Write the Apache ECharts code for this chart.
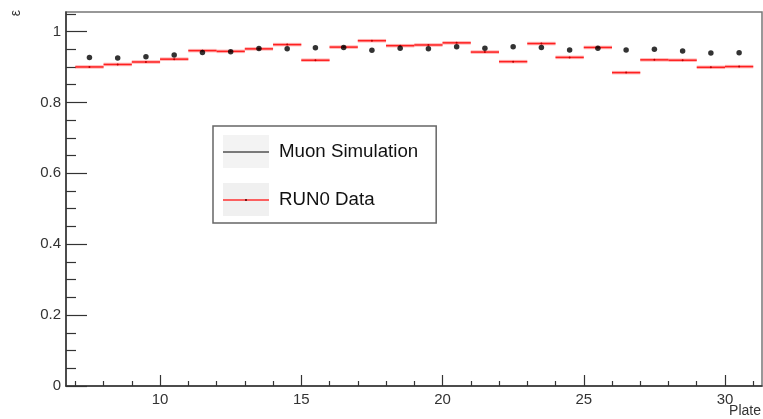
<!DOCTYPE html>
<html><head><meta charset="utf-8">
<script src="https://cdn.jsdelivr.net/npm/echarts@6/dist/echarts.min.js"></script>
<style>html,body{margin:0;padding:0;background:#fff}#c{width:763px;height:419px}</style>
</head><body><div id="c"></div>
<script>
const plates = [7,8,9,10,11,12,13,14,15,16,17,18,19,20,21,22,23,24,25,26,27,28,29,30];
const simEff = [0.927,0.925,0.929,0.934,0.941,0.943,0.952,0.951,0.954,0.955,0.947,0.953,0.951,0.957,0.953,0.957,0.955,0.948,0.953,0.948,0.950,0.945,0.939,0.940];
const runEff = [0.900,0.907,0.914,0.922,0.946,0.944,0.951,0.963,0.919,0.956,0.974,0.960,0.962,0.968,0.942,0.915,0.966,0.927,0.955,0.884,0.920,0.919,0.899,0.901];
const xMajorTicks = [10,15,20,25,30];
const xMinorTicks = [7,8,9,11,12,13,14,16,17,18,19,21,22,23,24,26,27,28,29,31];
const yMajorTicks = [0,0.2,0.4,0.6,0.8,1];
const yMinorTicks = [0.05,0.1,0.15,0.25,0.3,0.35,0.45,0.5,0.55,0.65,0.7,0.75,0.85,0.9,0.95,1.05];
const seriesNames = ['Muon Simulation','RUN0 Data'];

const chart = echarts.init(document.getElementById('c'), null, {renderer:'canvas'});
const FONT = '"Liberation Sans", Arial, Helvetica, sans-serif';
const X0 = 6.67, X1 = 31.31, Y0 = 0, Y1 = 1.055;

function xAx(ticks, len, labels, line){
  return {type:'value', min:X0, max:X1, position:'bottom', offset:0,
    axisLine:{show:line, onZero:false, lineStyle:{color:'#333', width:1.5}},
    axisTick:{show:true, inside:true, length:len, customValues:ticks, lineStyle:{color:'#333', width:1.2}},
    axisLabel:{show:labels, customValues:ticks, margin:6, color:'#333', fontFamily:FONT, fontSize:15},
    splitLine:{show:false}};
}
function yAx(ticks, len, labels, line){
  return {type:'value', min:Y0, max:Y1, position:'left', offset:0,
    axisLine:{show:line, onZero:false, lineStyle:{color:'#333', width:1.5}},
    axisTick:{show:true, inside:true, length:len, customValues:ticks, lineStyle:{color:'#333', width:1.2}},
    axisLabel:{show:labels, customValues:ticks, margin:5, color:'#333', fontFamily:FONT, fontSize:15},
    splitLine:{show:false}};
}

chart.setOption({
  animation:false,
  backgroundColor:'#fff',
  grid:{left:66, right:1, top:12, bottom:33, show:true, borderColor:'#777', borderWidth:1.5, backgroundColor:'transparent'},
  xAxis:[xAx(xMajorTicks, 11, true, true), xAx(xMinorTicks, 5, false, false)],
  yAxis:[yAx(yMajorTicks, 21, true, true), yAx(yMinorTicks, 10, false, false)],
  legend:{
    left:213, top:126, orient:'vertical',
    backgroundColor:'#fff', borderColor:'#666', borderWidth:1.5,
    padding:[9,18,7,10], itemWidth:46, itemHeight:33, itemGap:15,
    textStyle:{fontFamily:FONT, fontSize:18.7, color:'#111', padding:[0,0,0,5]},
    selectedMode:false,
    data:[
      {name:seriesNames[0], icon:'rect', itemStyle:{color:'#f0f0f0', borderWidth:0}},
      {name:seriesNames[1], icon:'rect', itemStyle:{color:'#f0f0f0', borderWidth:0}}
    ]
  },
  graphic:[
    {type:'text', left:9, top:10, rotation:Math.PI/2, style:{text:'ε', font:'14px '+FONT, fill:'#333'}},
    {type:'text', right:2, top:404, style:{text:'Plate', font:'14px '+FONT, fill:'#333'}},
    {type:'line', z:100, shape:{x1:223, y1:152, x2:269, y2:152}, style:{stroke:'#000', lineWidth:1}},
    {type:'line', z:100, shape:{x1:223, y1:200, x2:269, y2:200}, style:{stroke:'#ff3030', lineWidth:1.5}},
    {type:'circle', z:101, shape:{cx:246, cy:200, r:1}, style:{fill:'#400'}}
  ],
  series:[
    {
      name:seriesNames[1], type:'custom', xAxisIndex:0, yAxisIndex:0, z:2,
      itemStyle:{color:'#ff3030'},
      data: plates.map((p,i)=>[p, runEff[i]]),
      renderItem:(params, api)=>{
        const x = api.value(0), v = api.value(1);
        const a = api.coord([x, v]), b = api.coord([x+1, v]), m = api.coord([x+0.5, v]);
        return {type:'group', children:[
          {type:'line', shape:{x1:a[0], y1:a[1], x2:b[0], y2:b[1]}, style:{stroke:'rgba(255,40,40,0.35)', lineWidth:3.5}},
          {type:'line', shape:{x1:a[0], y1:a[1], x2:b[0], y2:b[1]}, style:{stroke:'#ff2020', lineWidth:1.5}},
          {type:'circle', shape:{cx:m[0], cy:m[1], r:1}, style:{fill:'#b00'}}
        ]};
      }
    },
    {
      name:seriesNames[0], type:'scatter', xAxisIndex:0, yAxisIndex:0, z:5,
      symbol:'circle', symbolSize:5.5, itemStyle:{color:'#000'},
      data: plates.map((p,i)=>[p+0.5, simEff[i]])
    }
  ]
});
</script>
</body></html>
